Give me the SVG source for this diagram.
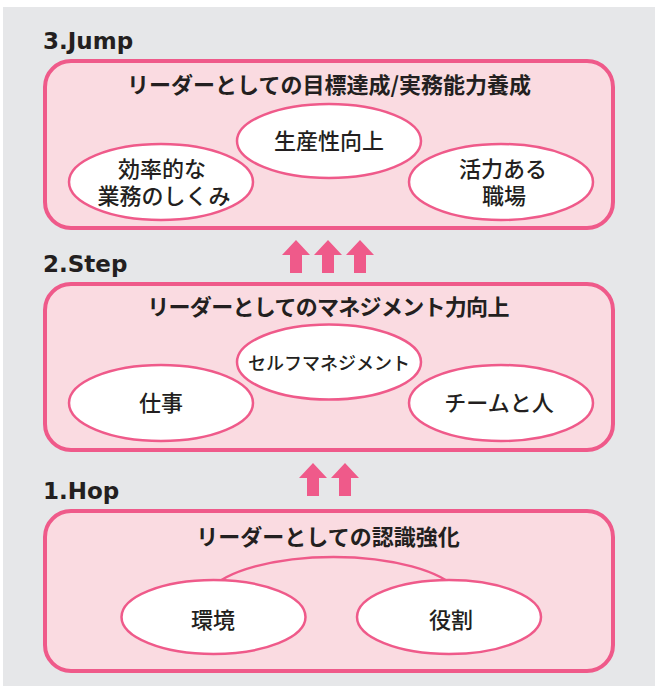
<svg xmlns="http://www.w3.org/2000/svg" width="661" height="686" viewBox="0 0 661 686">
<style>
.box{fill:#fadbe1;stroke:#ef5a8a;stroke-width:4}
.ell{fill:#ffffff;stroke:#ef5a8a;stroke-width:2.5}
.arc{fill:none;stroke:#ef5a8a;stroke-width:2.5}
.hdr{font-family:"DejaVu Sans",sans-serif;font-weight:bold;font-size:23px;fill:#231f20}
.ttl{font-family:"Noto Sans CJK JP",sans-serif;font-weight:bold;font-size:22px;fill:#231f20;text-anchor:middle}
.lbl{font-family:"Noto Sans CJK JP",sans-serif;font-weight:500;font-size:22px;fill:#231f20;text-anchor:middle}
.arrow{fill:#ef5a8a}
</style>
<defs>
<path id="up" d="M0 0 L14 15 L6 15 L6 33 L-6 33 L-6 15 L-14 15 Z"/>
</defs>
<rect x="3" y="7" width="652" height="679" fill="#e6e7e9"/>

<g id="jump">
<text class="hdr" x="43" y="49">3.Jump</text>
<rect class="box" x="45" y="61" width="568" height="167" rx="26"/>
<text class="ttl" x="329" y="93">リーダーとしての目標達成/実務能力養成</text>
</g>
<g id="productivity">
<ellipse class="ell" cx="329" cy="141" rx="92" ry="37"/>
<text class="lbl" x="329" y="149">生産性向上</text>
</g>
<g id="efficient">
<ellipse class="ell" cx="161" cy="182" rx="92" ry="38"/>
<text class="lbl" x="162" y="177">効率的な</text>
<text class="lbl" x="164" y="204">業務のしくみ</text>
</g>
<g id="workplace">
<ellipse class="ell" cx="501" cy="182" rx="92" ry="38"/>
<text class="lbl" x="503" y="177">活力ある</text>
<text class="lbl" x="504" y="204">職場</text>
</g>

<g id="step">
<text class="hdr" x="43" y="272">2.Step</text>
<rect class="box" x="45" y="284" width="568" height="166" rx="26"/>
<text class="ttl" x="328" y="315" style="letter-spacing:-0.7px">リーダーとしてのマネジメント力向上</text>
</g>
<g id="selfmgmt">
<ellipse class="ell" cx="329" cy="362" rx="92" ry="37.5"/>
<text class="lbl" x="329" y="370" style="font-size:18px">セルフマネジメント</text>
</g>
<g id="work">
<ellipse class="ell" cx="161" cy="403" rx="92" ry="38"/>
<text class="lbl" x="161" y="411">仕事</text>
</g>
<g id="team">
<ellipse class="ell" cx="501" cy="403" rx="92" ry="38"/>
<text class="lbl" x="499" y="411">チームと人</text>
</g>

<g id="hop">
<text class="hdr" x="43" y="499">1.Hop</text>
<rect class="box" x="45" y="511" width="568" height="160" rx="26"/>
<text class="ttl" x="328" y="545">リーダーとしての認識強化</text>
</g>

<g id="connectors">
<use href="#up" class="arrow" x="296" y="240"/>
<use href="#up" class="arrow" x="328" y="240"/>
<use href="#up" class="arrow" x="360" y="240"/>
<use href="#up" class="arrow" x="313" y="463"/>
<use href="#up" class="arrow" x="345" y="463"/>
<path class="arc" d="M208.5 591 A130 47 0 0 1 458.5 591"/>
</g>

<g id="environment">
<ellipse class="ell" cx="213.5" cy="617" rx="92" ry="37"/>
<text class="lbl" x="213" y="628">環境</text>
</g>
<g id="role">
<ellipse class="ell" cx="449" cy="617" rx="92" ry="37"/>
<text class="lbl" x="451" y="628">役割</text>
</g>
</svg>
